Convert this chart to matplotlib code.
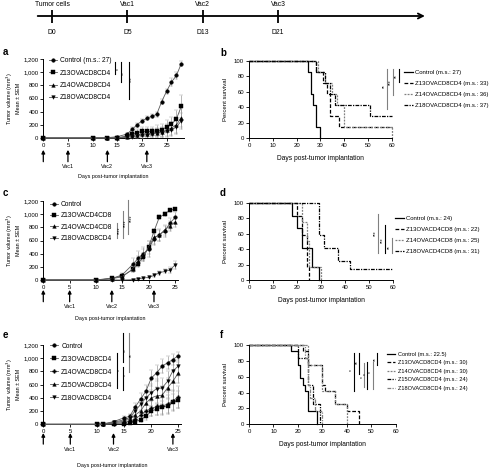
import matplotlib
matplotlib.use('Agg')
import matplotlib.pyplot as plt
import numpy as np

plt.rcParams['font.family'] = ['Liberation Sans', 'DejaVu Sans']
plt.rcParams['axes.linewidth'] = 0.7

W, H = 490, 468

# ---- timeline ----
timeline_events = ['Tumor cells', 'Vac1', 'Vac2', 'Vac3']
timeline_days = ['D0', 'D5', 'D13', 'D21']

# ---- panel a: tumor volume ----
days_a = [0, 10, 13, 15, 17, 18, 19, 20, 21, 22, 23, 24, 25, 26, 27, 28]
names_a = ['Control (m.s.: 27)', 'Z13OVACD8CD4', 'Z14OVACD8CD4', 'Z18OVACD8CD4']
vol_a = [
    [0, 0, 5, 20, 60, 130, 200, 260, 300, 330, 360, 550, 710, 850, 950, 1130],
    [0, 0, 0, 5, 30, 60, 80, 100, 100, 100, 110, 120, 170, 210, 290, 480],
    [0, 0, 0, 2, 20, 40, 50, 60, 60, 70, 80, 90, 120, 150, 200, 310],
    [0, 0, 0, 0, 10, 20, 30, 40, 50, 60, 70, 80, 100, 120, 170, 260],
]
sem_a = [
    [0, 0, 3, 8, 20, 30, 30, 30, 30, 30, 40, 40, 40, 60, 50, 40],
    [0, 0, 0, 5, 20, 40, 60, 60, 60, 70, 80, 90, 100, 110, 130, 170],
    [0, 0, 0, 3, 15, 30, 40, 50, 50, 60, 70, 80, 90, 100, 120, 140],
    [0, 0, 0, 0, 10, 20, 30, 40, 40, 50, 60, 70, 80, 90, 110, 120],
]
vac_a = [0, 5, 13, 21]

# ---- panel c ----
days_c = [0, 10, 13, 15, 17, 18, 19, 20, 21, 22, 23, 24, 25]
names_c = ['Control', 'Z13OVACD4CD8', 'Z14OVACD4CD8', 'Z18OVACD8CD4']
vol_c = [
    [0, 0, 20, 80, 240, 330, 400, 470, 630, 690, 740, 860, 950],
    [0, 0, 30, 60, 160, 250, 350, 500, 740, 950, 1000, 1060, 1080],
    [0, 0, 20, 50, 170, 290, 380, 500, 650, 680, 760, 820, 880],
    [0, 0, 0, 0, 5, 20, 30, 40, 70, 110, 130, 150, 230],
]
sem_c = [
    [0, 0, 10, 30, 90, 110, 100, 120, 100, 90, 80, 80, 80],
    [0, 0, 10, 20, 40, 60, 60, 50, 40, 30, 30, 20, 20],
    [0, 0, 10, 20, 50, 80, 90, 100, 100, 80, 80, 80, 80],
    [0, 0, 0, 0, 5, 10, 10, 15, 20, 30, 30, 40, 60],
]
vac_c = [0, 5, 13, 21]

# ---- panel e ----
days_e = [0, 10, 11, 13, 15, 16, 17, 18, 19, 20, 21, 22, 23, 24, 25]
names_e = ['Control', 'Z13OVACD8CD4', 'Z14OVACD8CD4', 'Z15OVACD8CD4', 'Z18OVACD8CD4']
vol_e = [
    [0, 0, 5, 40, 100, 120, 260, 380, 500, 700, 780, 880, 930, 980, 1040],
    [0, 0, 0, 5, 10, 20, 40, 70, 120, 200, 230, 260, 280, 340, 370],
    [0, 0, 0, 10, 30, 50, 80, 140, 200, 240, 270, 280, 300, 360, 410],
    [0, 0, 2, 20, 50, 80, 140, 200, 320, 400, 430, 440, 550, 650, 780],
    [0, 0, 2, 30, 70, 100, 200, 300, 400, 480, 540, 550, 650, 810, 880],
]
sem_e = [
    [0, 0, 3, 10, 20, 30, 60, 90, 100, 120, 120, 110, 100, 80, 60],
    [0, 0, 0, 5, 10, 15, 20, 40, 60, 80, 90, 100, 110, 120, 130],
    [0, 0, 0, 5, 15, 20, 40, 60, 90, 110, 130, 140, 150, 160, 170],
    [0, 0, 2, 10, 20, 30, 50, 80, 100, 120, 130, 140, 150, 150, 160],
    [0, 0, 2, 10, 20, 40, 60, 90, 110, 130, 140, 150, 160, 150, 150],
]
vac_e = [0, 5, 13, 24]

vac_labels = ['', 'Vac1', 'Vac2', 'Vac3']

# ---- survival ----
names_b = ['Control (m.s.: 27)', 'Z13OVACD8CD4 (m.s.: 33)',
           'Z14OVACD8CD4 (m.s.: 36)', 'Z18OVACD8CD4 (m.s.: 37)']
surv_t_b = [[0, 25, 26, 27, 28, 30],
            [0, 28, 31, 33, 34, 38, 60],
            [0, 29, 32, 35, 37, 40, 60],
            [0, 28, 32, 34, 36, 51, 60]]
surv_s_b = [[100, 86, 57, 43, 14, 0],
            [100, 86, 71, 57, 29, 14, 14],
            [100, 86, 71, 57, 43, 14, 0],
            [100, 86, 71, 57, 43, 29, 29]]

names_d = ['Control (m.s.: 24)', 'Z13OVACD4CD8 (m.s.: 22)',
           'Z14OVACD4CD8 (m.s.: 25)', 'Z18OVACD4CD8 (m.s.: 31)']
surv_t_d = [[0, 18, 20, 22, 26, 29],
            [0, 20, 22, 24, 25],
            [0, 22, 24, 25, 30],
            [0, 29, 31, 37, 42, 60]]
surv_s_d = [[100, 83, 67, 42, 17, 0],
            [100, 83, 58, 17, 0],
            [100, 75, 50, 17, 0],
            [100, 58, 42, 25, 14, 14]]

names_f = ['Control (m.s.: 22.5)', 'Z13OVACD8CD4 (m.s.: 30)',
           'Z14OVACD8CD4 (m.s.: 30)', 'Z15OVACD8CD4 (m.s.: 24)',
           'Z18OVACD8CD4 (m.s.: 24)']
surv_t_f = [[0, 17, 20, 21, 22, 23, 24, 28],
            [0, 22, 24, 30, 31, 35, 40, 45],
            [0, 24, 30, 35, 40],
            [0, 20, 24, 26, 29],
            [0, 23, 24, 25, 27, 30]]
surv_s_f = [[100, 92, 75, 58, 50, 42, 17, 0],
            [100, 92, 75, 50, 42, 25, 17, 0],
            [100, 75, 42, 25, 0],
            [100, 83, 50, 25, 0],
            [100, 83, 50, 33, 17, 0]]

# significance brackets: (x, y0, y1, stars, star_x, star_y, color)
sig_a = [(14.6, 970, 1155, '*', 15.2, 1045, 'k'),
         (15.7, 845, 1155, '**', 16.3, 980, 'k'),
         (17.3, 595, 1155, '***', 17.9, 895, 'k')]
sig_c = [(13.9, 633, 870, '****', 14.45, 760, '0.5'),
         (15.1, 633, 1048, '****', 15.6, 861, '0.5'),
         (16.1, 694, 1215, '****', 16.65, 937, '0.5')]
sig_e = [(13.7, 545, 1074, '*', 14.15, 822, 'k'),
         (14.7, 947, 1377, '**', 15.15, 1124, 'k'),
         (14.7, 519, 871, '*', 15.15, 746, 'k'),
         (15.8, 794, 1377, '**', 16.25, 1048, '0.5')]
sig_b = [(57.9, 38, 89, '**', 56.8, 67, '0.5'),
         (60.4, 56, 89, '***', 59.4, 72, '0.5'),
         (63.1, 73, 89, '**', 62.0, 80, 'k')]
sig_d = [(53.8, 35, 86, '***', 52.7, 60, '0.5'),
         (56.5, 35, 71, '***', 55.5, 52, 'k'),
         (59.3, 35, 54, '**', 58.2, 43, '0.5')]
sig_f = [(43.0, 42, 90, '*', 42.0, 68, 'k'),
         (45.1, 64, 90, '**', 44.2, 78, 'k'),
         (47.1, 47, 77, '*', 46.2, 60, '0.5'),
         (48.4, 45, 79, '*', 47.6, 63, 'k'),
         (50.6, 45, 78, '*', 49.7, 66, '0.5'),
         (52.5, 75, 90, '**', 51.6, 82, 'k')]

FS = 4.3        # tick labels
FS_SMALL = 3.9  # tumor axis labels, Vac labels
FS_LEG = 4.8    # tumor legends


def add_px_axes(fig, left, top, right, bottom):
    return fig.add_axes([left / W, 1 - bottom / H, (right - left) / W,
                         (bottom - top) / H])


def style_axes(ax):
    for side in ['top', 'right']:
        ax.spines[side].set_visible(False)
    ax.tick_params(direction='out', length=2, width=0.6, labelsize=FS, pad=1.5)


def draw_sig(ax, sig):
    for x, y0, y1, stars, sx, sy, col in sig:
        ax.plot([x, x], [y0, y1], color=col, lw=0.8, clip_on=False)
        ax.text(sx, sy, stars, fontsize=3.5, rotation=90, ha='center',
                va='center', clip_on=False)


def tumor_panel(ax, days, names, vols, sems, markers, vac, xmax, sig,
                leg_anchor, leg_spacing, tip, tail, lab_y, xl_y):
    for name, v, e, m in zip(names, vols, sems, markers):
        ax.errorbar(days, v, yerr=e, color='0.35', lw=0.6, ecolor='0.6',
                    elinewidth=0.5, capsize=1.3, capthick=0.5, marker=m,
                    markersize=2.6, markerfacecolor='k', markeredgecolor='k',
                    markeredgewidth=0.3, label=name, clip_on=False, zorder=3)
    ax.set_xlim(0, xmax)
    ax.set_ylim(0, 1200)
    ax.set_xticks([0, 5, 10, 15, 20, 25])
    yt = [0, 200, 400, 600, 800, 1000, 1200]
    ax.set_yticks(yt)
    ax.set_yticklabels([f'{v:,}' for v in yt])
    style_axes(ax)
    ax.set_ylabel('Tumor volume (mm$^3$)\nMean \u00b1 SEM', fontsize=FS_SMALL,
                  labelpad=2, linespacing=1.2)
    ax.text(0.5, xl_y, 'Days post-tumor implantation', transform=ax.transAxes,
            fontsize=FS_SMALL, ha='center', va='center')
    trans = ax.get_xaxis_transform()
    for d, lab in zip(vac, vac_labels):
        ax.annotate('', xy=(d, tip), xytext=(d, tail), xycoords=trans,
                    textcoords=trans,
                    arrowprops=dict(arrowstyle='-|>', color='k', lw=0.9,
                                    mutation_scale=5, shrinkA=0, shrinkB=0))
        if lab:
            ax.text(d, lab_y, lab, transform=trans, fontsize=FS_SMALL,
                    ha='center', va='top')
    handles, labels = ax.get_legend_handles_labels()
    handles = [h[0] for h in handles]
    ax.legend(handles, labels, loc='upper left', bbox_to_anchor=leg_anchor,
              frameon=False, fontsize=FS_LEG, handlelength=1.2,
              handletextpad=0.45, borderpad=0, borderaxespad=0,
              labelspacing=leg_spacing)
    draw_sig(ax, sig)


def survival_panel(ax, names, ts, ss, styles, sig, leg_anchor, leg_spacing,
                   leg_fs):
    for name, t, s, (col, ls) in zip(names, ts, ss, styles):
        ax.step(t, s, where='post', color=col, linestyle=ls, lw=0.9,
                label=name, clip_on=False)
    ax.set_xlim(0, 60)
    ax.set_ylim(0, 100)
    ax.set_xticks([0, 10, 20, 30, 40, 50, 60])
    ax.set_yticks([0, 20, 40, 60, 80, 100])
    style_axes(ax)
    ax.set_ylabel('Percent survival', fontsize=FS, labelpad=4)
    ax.set_xlabel('Days post-tumor implantation', fontsize=4.8, labelpad=5)
    ax.legend(loc='upper left', bbox_to_anchor=leg_anchor, frameon=False,
              fontsize=leg_fs, handlelength=1.5, handletextpad=0.4,
              borderpad=0, borderaxespad=0, labelspacing=leg_spacing)
    draw_sig(ax, sig)


fig = plt.figure(figsize=(W / 100, H / 100), dpi=100)

# timeline
ax0 = add_px_axes(fig, 30, 0, 440, 40)
ax0.set_xlim((30 - 52) / 75.33, (440 - 52) / 75.33)
ax0.set_ylim(40, 0)
ax0.axis('off')
idx = np.arange(len(timeline_events))
ax0.annotate('', xy=(idx[-1] + 1.95, 16), xytext=(-0.19, 16),
             arrowprops=dict(arrowstyle='->', color='k', lw=1.3,
                             mutation_scale=9, shrinkA=0, shrinkB=0))
ax0.vlines(idx, 10, 23, color='k', lw=1.3)
for i, ev, d in zip(idx, timeline_events, timeline_days):
    ax0.text(i, 5, ev, fontsize=4.9, ha='center', va='center')
    ax0.text(i, 32, d, fontsize=4.9, ha='center', va='center')

# tumor panels
ax_a = add_px_axes(fig, 43.3, 59, 183.8, 138)
tumor_panel(ax_a, days_a, names_a, vol_a, sem_a, ['o', 's', '^', 'v'],
            vac_a, 28.5, sig_a, (0.04, 1.02), 0.8, -0.15, -0.30, -0.33,
            -0.49)
ax_c = add_px_axes(fig, 43.3, 201, 177.7, 280)
tumor_panel(ax_c, days_c, names_c, vol_c, sem_c, ['o', 's', '^', 'v'],
            vac_c, 25.5, sig_c, (0.05, 1.0), 0.65, -0.125, -0.275, -0.30,
            -0.49)
ax_e = add_px_axes(fig, 43.3, 345, 181, 424.3)
tumor_panel(ax_e, days_e, names_e, vol_e, sem_e, ['o', 's', 'P', '^', 'v'],
            vac_e, 25.5, sig_e, (0.05, 1.03), 0.9, -0.11, -0.25, -0.29,
            -0.52)

# survival panels
sty4 = [('k', '-'), ('k', (0, (3, 1.5))), ('0.5', (0, (1.5, 1))),
        ('k', (0, (3, 1, 1, 1)))]
sty5 = [('k', '-'), ('k', (0, (3, 1.5))), ('0.5', (0, (1.5, 1))),
        ('k', (0, (3, 1, 1, 1))), ('0.5', (0, (3, 1, 1, 1)))]
ax_b = add_px_axes(fig, 249, 61, 391.7, 138)
survival_panel(ax_b, names_b, surv_t_b, surv_s_b, sty4, sig_b,
               (1.086, 0.88), 0.95, FS)
ax_d = add_px_axes(fig, 249, 202.7, 393.3, 280)
survival_panel(ax_d, names_d, surv_t_d, surv_s_d, sty4, sig_d,
               (1.012, 0.83), 1.0, FS)
ax_f = add_px_axes(fig, 249, 345, 395.7, 424.3)
survival_panel(ax_f, names_f, surv_t_f, surv_s_f, sty5, sig_f,
               (0.94, 0.915), 0.62, 4.1)

# panel letters
for lab, x, y in [('a', 3, 52), ('b', 220, 53), ('c', 3, 193), ('d', 220, 193),
                  ('e', 3, 335), ('f', 220, 335)]:
    fig.text(x / W, 1 - y / H, lab, fontsize=7, fontweight='bold',
             ha='left', va='center')

fig.savefig('out.png', dpi=100)
